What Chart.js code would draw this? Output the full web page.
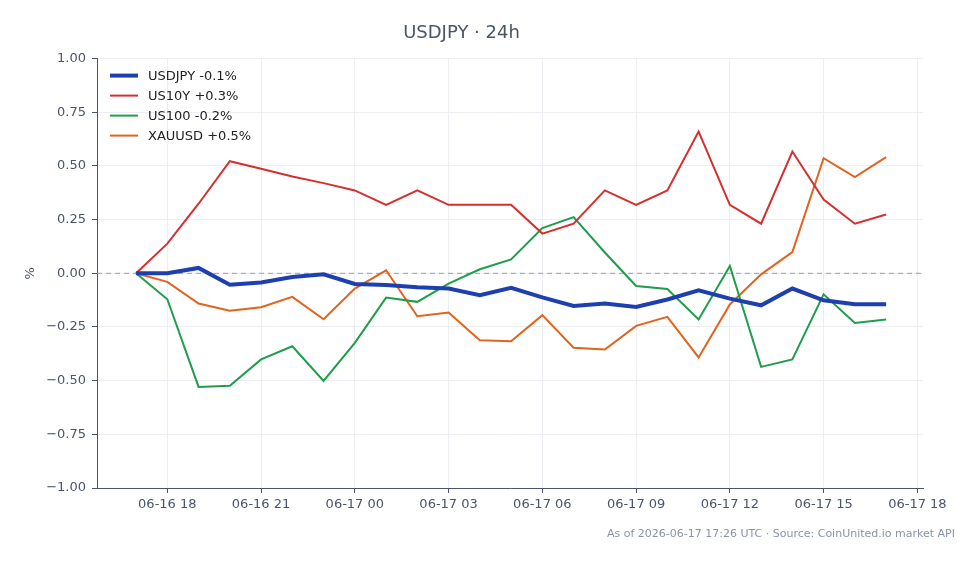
<!DOCTYPE html>
<html>
<head>
<meta charset="utf-8">
<script src="https://cdn.jsdelivr.net/npm/chart.js@4/dist/chart.umd.min.js"></script>
<style>
  html, body { margin: 0; padding: 0; background: #ffffff; }
  #wrap { width: 979px; height: 564px; }
</style>
</head>
<body>
<div id="wrap"><canvas id="chart" width="979" height="564"></canvas></div>
<script>
// hours counted from 06-16 00:00 UTC
const hours = [17, 18, 19, 20, 21, 22, 23, 24, 25, 26, 27, 28, 29, 30, 31, 32, 33, 34, 35, 36, 37, 38, 39, 40, 41];
const x_ticks = [18, 21, 24, 27, 30, 33, 36, 39, 42];
const y_ticks = [-1, -0.75, -0.5, -0.25, 0, 0.25, 0.5, 0.75, 1];

const usdjpy = [0, 0, 0.025, -0.053, -0.043, -0.017, -0.005, -0.05, -0.054, -0.065, -0.071, -0.102, -0.068,
    -0.112, -0.152, -0.141, -0.157, -0.122, -0.079, -0.118, -0.149, -0.071, -0.126, -0.144, -0.144];
const us10y = [0, 0.138, 0.324, 0.522, 0.487, 0.451, 0.42, 0.386, 0.319, 0.386, 0.319, 0.319, 0.319,
    0.185, 0.231, 0.386, 0.319, 0.386, 0.66, 0.319, 0.231, 0.567, 0.344, 0.231, 0.274];
const us100 = [0, -0.121, -0.529, -0.524, -0.401, -0.34, -0.501, -0.324, -0.113, -0.133, -0.048, 0.019, 0.065,
    0.211, 0.262, 0.097, -0.059, -0.073, -0.215, 0.034, -0.436, -0.401, -0.098, -0.231, -0.215];
const xauusd = [0, -0.04, -0.141, -0.174, -0.158, -0.11, -0.214, -0.071, 0.014, -0.2, -0.183, -0.312, -0.316,
    -0.195, -0.347, -0.355, -0.245, -0.203, -0.392, -0.145, -0.005, 0.099, 0.536, 0.448, 0.541];

const x_min = 15.75;
const x_max = 42.18;

const text_color = '#4a5568';
const grid_color = '#eceef3';

function pts(values) {
    return values.map((v, i) => ({ x: hours[i], y: v }));
}

function hour_label(h) {
    const day = 16 + Math.floor(h / 24);
    const hh = h % 24;
    return '06-' + day + ' ' + String(hh).padStart(2, '0');
}

function fmt_pct(v) {
    const s = Math.abs(v).toFixed(2);
    return v < 0 ? '\u2212' + s : s;
}

// legend inside the plot, top left, like the original
const inner_legend = {
    id: 'inner_legend',
    afterDatasetsDraw(chart) {
        const ctx = chart.ctx;
        const area = chart.chartArea;
        ctx.save();
        ctx.font = '13px "DejaVu Sans"';
        ctx.textBaseline = 'middle';
        ctx.textAlign = 'left';
        chart.data.datasets.slice(0, 4).forEach((ds, i) => {
            const y = area.top + 17 + i * 20;
            const x = area.left + 13;
            ctx.strokeStyle = ds.borderColor;
            ctx.lineWidth = ds.borderWidth;
            ctx.beginPath();
            ctx.moveTo(x, y);
            ctx.lineTo(x + 28, y);
            ctx.stroke();
            ctx.fillStyle = '#222222';
            ctx.fillText(ds.label, x + 38, y + 1);
        });
        ctx.restore();
    }
};

const footer = {
    id: 'footer',
    afterDraw(chart) {
        const ctx = chart.ctx;
        ctx.save();
        ctx.font = '11px "DejaVu Sans"';
        ctx.fillStyle = '#8a94a6';
        ctx.textAlign = 'right';
        ctx.textBaseline = 'middle';
        ctx.fillText('As of 2026-06-17 17:26 UTC \u00b7 Source: CoinUnited.io market API', 955, 534);
        ctx.restore();
    }
};

new Chart(document.getElementById('chart'), {
    type: 'line',
    data: {
        datasets: [{
            label: 'USDJPY -0.1%',
            data: pts(usdjpy),
            borderColor: '#1e40af',
            backgroundColor: '#1e40af',
            borderWidth: 4
        }, {
            label: 'US10Y +0.3%',
            data: pts(us10y),
            borderColor: '#d62f2f',
            backgroundColor: '#d62f2f',
            borderWidth: 2
        }, {
            label: 'US100 -0.2%',
            data: pts(us100),
            borderColor: '#1f9d4b',
            backgroundColor: '#1f9d4b',
            borderWidth: 2
        }, {
            label: 'XAUUSD +0.5%',
            data: pts(xauusd),
            borderColor: '#e3621c',
            backgroundColor: '#e3621c',
            borderWidth: 2
        }, {
            label: 'zero',
            data: [{ x: x_min, y: 0 }, { x: x_max, y: 0 }],
            borderColor: '#8fa0ba',
            borderWidth: 1,
            borderDash: [5, 4]
        }]
    },
    options: {
        responsive: false,
        animation: false,
        events: [],
        elements: {
            point: { radius: 0 },
            line: { tension: 0 }
        },
        layout: {
            padding: { left: 0, right: 56, top: 0, bottom: 0 }
        },
        plugins: {
            title: {
                display: true,
                text: 'USDJPY \u00b7 24h',
                color: text_color,
                font: { family: '"DejaVu Sans"', size: 18, weight: 'normal' },
                padding: { top: 23, bottom: 14 }
            },
            legend: { display: false },
            tooltip: { enabled: false }
        },
        scales: {
            x: {
                type: 'linear',
                min: x_min,
                max: x_max,
                afterBuildTicks: scale => {
                    scale.ticks = x_ticks.map(v => ({ value: v }));
                },
                afterFit: scale => {
                    scale.height = 76;
                },
                ticks: {
                    color: text_color,
                    font: { family: '"DejaVu Sans"', size: 13 },
                    padding: 4,
                    maxRotation: 0,
                    autoSkip: false,
                    callback: v => hour_label(v)
                },
                grid: {
                    color: grid_color,
                    tickColor: text_color,
                    tickLength: 5
                },
                border: { color: text_color, width: 1 }
            },
            y: {
                min: -1,
                max: 1,
                afterBuildTicks: scale => {
                    scale.ticks = y_ticks.map(v => ({ value: v }));
                },
                afterFit: scale => {
                    scale.width = 97;
                },
                title: {
                    display: true,
                    text: '%',
                    color: text_color,
                    font: { family: '"DejaVu Sans"', size: 13 },
                    padding: { top: 23, bottom: 0 }
                },
                ticks: {
                    color: text_color,
                    font: { family: '"DejaVu Sans"', size: 13 },
                    padding: 6,
                    callback: v => fmt_pct(v)
                },
                grid: {
                    color: grid_color,
                    tickColor: text_color,
                    tickLength: 5
                },
                border: { color: text_color, width: 1 }
            }
        }
    },
    plugins: [inner_legend, footer]
});
</script>
</body>
</html>
